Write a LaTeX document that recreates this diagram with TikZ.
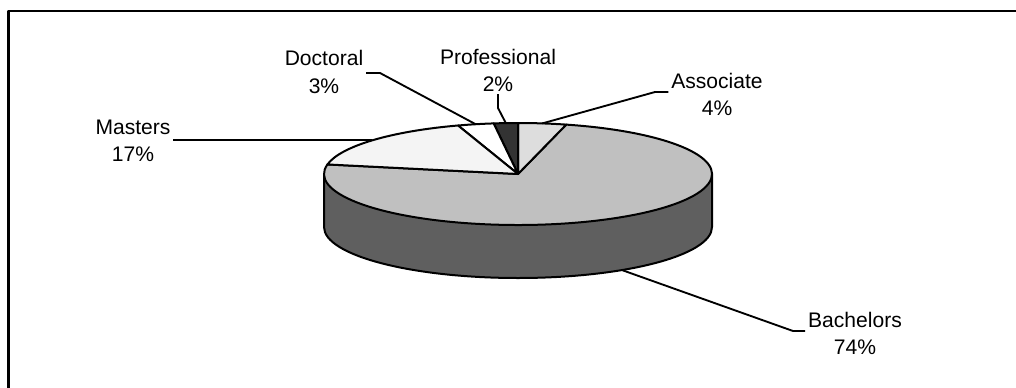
\documentclass[tikz,border=0pt]{standalone}
\usepackage{fontspec}
\setmainfont{Liberation Sans}
\usetikzlibrary{calc}
\definecolor{assocfill}{HTML}{DDDDDD}
\definecolor{proffill}{HTML}{333333}
\definecolor{mastfill}{HTML}{F4F4F4}
\definecolor{bachfill}{HTML}{C0C0C0}
\definecolor{sidefill}{HTML}{5F5F5F}
\tikzset{
  slice/.style={draw=black,line width=1.5pt,line join=round},
  leader/.style={draw=black,line width=1.4pt},
  lbl/.style={align=center,inner sep=2pt,font=\fontsize{15.8}{20.3}\selectfont},
}
\begin{document}
\begin{tikzpicture}[x=0.75pt,y=0.75pt,line join=bevel,]
%%
\clip (0,0) rectangle (1016,387);
\useasboundingbox (0,0) rectangle (1016,387);
\draw [line width=2.2pt] (8.5,376) rectangle (1030,-20);
%
\coordinate (ctr) at (518,213);
\coordinate (ctr_low) at (518,160);
%% side wall
\fill [sidefill] ($(ctr)+(-194,0)$) arc[start angle=180,end angle=360,x radius=194,y radius=51]
  -- ($(ctr_low)+(194,0)$) arc[start angle=0,end angle=-180,x radius=194,y radius=51] -- cycle;
\draw [slice] ($(ctr)+(-194,0)$) -- ($(ctr_low)+(-194,0)$)
  arc[start angle=180,end angle=360,x radius=194,y radius=51] -- ($(ctr)+(194,0)$);
%% top
\draw [slice,fill=bachfill] (ctr) -- ($(ctr)+(169.2:194 and 51)$) arc[start angle=169.2,end angle=435.6,x radius=194,y radius=51] -- cycle;
\draw [slice,fill=assocfill] (ctr) -- ($(ctr)+(75.6:194 and 51)$) arc[start angle=75.6,end angle=90,x radius=194,y radius=51] -- cycle;
\draw [slice,fill=proffill] (ctr) -- ($(ctr)+(90:194 and 51)$) arc[start angle=90,end angle=97.2,x radius=194,y radius=51] -- cycle;
\draw [slice,fill=white] (ctr) -- ($(ctr)+(97.2:194 and 51)$) arc[start angle=97.2,end angle=108,x radius=194,y radius=51] -- cycle;
\draw [slice,fill=mastfill] (ctr) -- ($(ctr)+(108:194 and 51)$) arc[start angle=108,end angle=169.2,x radius=194,y radius=51] -- cycle;
%% labels
\node (lbl_bach) at (855,54) [lbl] {Bachelors\\74\%};
  \node (lbl_assoc) at (717,293) [lbl] {Associate\\4\%};
  \node (lbl_prof) at (498,317) [lbl] {Professional\\2\%};
  \node (lbl_doct) at (324,315) [lbl] {Doctoral\\3\%};
  \node (lbl_mast) at (133,246) [lbl] {Masters\\17\%};
%% leaders
\coordinate (pt_bach) at ($(ctr_low)+(-57.6:194 and 51)$);
  \coordinate (pt_assoc) at ($(ctr)+(82.8:194 and 51)$);
  \coordinate (pt_prof) at ($(ctr)+(93.6:194 and 51)$);
  \coordinate (pt_doct) at ($(ctr)+(102.6:194 and 51)$);
  \coordinate (pt_mast) at ($(ctr)+(138.6:194 and 51)$);
  \coordinate (knee_bach) at (793,56);
  \coordinate (knee_assoc) at (655,295);
  \coordinate (knee_prof) at (498,279);
  \coordinate (knee_doct) at (380,314);
  \draw [leader] (pt_bach) -- (knee_bach) -- (knee_bach -| lbl_bach.west);
  \draw [leader] (pt_assoc) -- (knee_assoc) -- (knee_assoc -| lbl_assoc.west);
  \draw [leader] (pt_prof) -- (knee_prof) -- (lbl_prof.south);
  \draw [leader] (pt_doct) -- (knee_doct) -- (knee_doct -| lbl_doct.east);
  \draw [leader] (pt_mast) -- (pt_mast -| lbl_mast.east);
%
\end{tikzpicture}
\end{document}
